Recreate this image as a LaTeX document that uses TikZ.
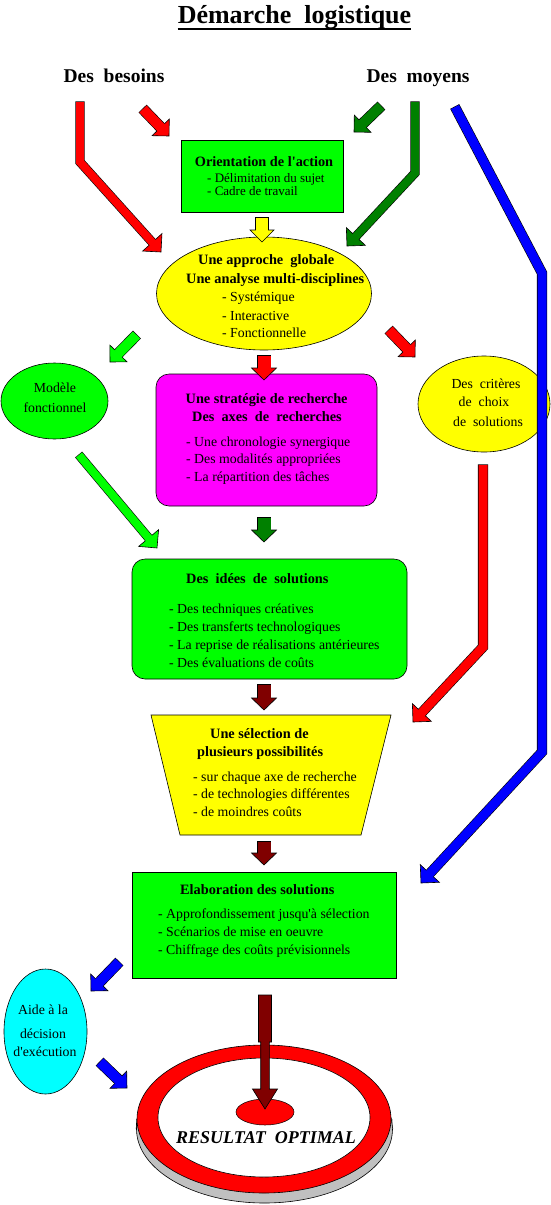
\documentclass[tikz,border=0pt]{standalone}
\usepackage{fontspec}
\setmainfont{Liberation Serif}
\usetikzlibrary{calc,shapes.geometric}
\definecolor{cLime}{RGB}{0,255,0}
\definecolor{cDGreen}{RGB}{0,128,0}
\definecolor{cYellow}{RGB}{255,255,0}
\definecolor{cMag}{RGB}{255,0,255}
\definecolor{cCyan}{RGB}{0,255,255}
\definecolor{cRed}{RGB}{255,0,0}
\definecolor{cBlue}{RGB}{0,0,255}
\definecolor{cMaroon}{RGB}{128,0,0}
\definecolor{cGray}{RGB}{192,192,192}
% block arrow: color, shaft width, half head width, head length, path up to penultimate point, penultimate, tip
\newcommand\blockarrow[7]{%
  \coordinate (bh) at ($(#7)!#4pt!(#6)$);
  \draw[line width=#2pt+1.2pt, black, line join=miter, shorten <=-0.6pt] #5 -- (bh);
  \filldraw[fill=#1, draw=black, line width=0.6pt, line join=miter] (#7) -- ($(bh)!#3pt!90:(#7)$) -- ($(bh)!#3pt!-90:(#7)$) -- cycle;
  \draw[line width=#2pt, #1, line join=miter] #5 -- ($(bh)!1pt!(#7)$);
}
\newcommand\qs{\textquotesingle}
\tikzset{
 tx/.style={font=\fontsize{13.8}{16}\selectfont, inner sep=0pt, anchor=base west},
 tb/.style={font=\fontsize{14.3}{16}\selectfont\bfseries, inner sep=0pt, anchor=base west},
 hd/.style={font=\fontsize{19.5}{22}\selectfont\bfseries, inner sep=0pt, anchor=base},
 shp/.style={draw=black, line width=0.6pt, inner sep=0pt},
}
\begin{document}
\begin{tikzpicture}[x=1pt,y=-1pt]
\useasboundingbox (0,0) rectangle (551,1205);

% title
\node[font=\fontsize{26}{30}\selectfont\bfseries, inner sep=0pt, anchor=base] (title) at (294.5,23) {Démarche\ \ logistique};
\draw[line width=1.8pt] ([yshift=-6pt]title.base west) -- ([yshift=-6pt]title.base east);
\node[hd] (besoins) at (114,82) {Des\ \ besoins};
\node[hd] (moyens) at (418,82) {Des\ \ moyens};

% shapes
\node[shp, rectangle, fill=cLime, minimum width=162pt, minimum height=72pt] (orient) at (262,176) {};
\node[shp, ellipse, fill=cYellow, minimum width=215pt, minimum height=113pt] (approche) at (264,293.5) {};
\node[shp, ellipse, fill=cLime, minimum width=107pt, minimum height=76pt] (modele) at (54.5,401) {};
\node[shp, rectangle, rounded corners=13pt, fill=cMag, minimum width=221pt, minimum height=132pt] (strat) at (266.5,440) {};
\node[shp, ellipse, fill=cYellow, minimum width=132pt, minimum height=96pt] (criteres) at (484,404) {};
\node[shp, rectangle, rounded corners=13pt, fill=cLime, minimum width=275pt, minimum height=120pt] (idees) at (269.5,619) {};
\coordinate (tz1) at (151,715); \coordinate (tz2) at (391,715);
\coordinate (tz3) at (361,835); \coordinate (tz4) at (180,835);
\filldraw[fill=cYellow, draw=black, line width=0.6pt] (tz1) -- (tz2) -- (tz3) -- (tz4) -- cycle;
\node[shp, rectangle, fill=cLime, minimum width=264pt, minimum height=106pt] (elab) at (264,925) {};
\node[shp, ellipse, fill=cCyan, minimum width=83pt, minimum height=125pt] (aide) at (45.5,1031.5) {};

% target
\node[ellipse, fill=cGray, draw=black, line width=0.6pt, inner sep=0pt, minimum width=256pt, minimum height=148pt] (shadow) at (264.5,1129) {};
\node[ellipse, inner sep=0pt, minimum width=254pt, minimum height=148pt] (ringb) at (264,1119) {};
\fill[cGray] (ringb.west) rectangle (shadow.east);
\draw[line width=0.6pt] (ringb.west) -- (shadow.west) (ringb.east) -- (shadow.east);
\node[ellipse, fill=cRed, draw=black, line width=0.6pt, inner sep=0pt, minimum width=254pt, minimum height=148pt] (ring) at (264,1119) {};
\node[ellipse, fill=white, draw=black, line width=0.6pt, inner sep=0pt, minimum width=212pt, minimum height=119pt] (hole) at (264,1117.5) {};
\node[ellipse, fill=cRed, draw=black, line width=0.5pt, inner sep=0pt, minimum width=58pt, minimum height=26pt] (bull) at (265,1112) {};
\node[font=\fontsize{18}{20}\selectfont\bfseries\itshape, inner sep=0pt, anchor=base west] (result) at (176,1143) {RESULTAT\ \ OPTIMAL};

% texts
\node[tb, anchor=base] (o1) at (264,166) {Orientation de l\qs action};
\node[tx, font=\fontsize{13}{15}\selectfont] (o2) at (207,182) {- Délimitation du sujet};
\node[tx, font=\fontsize{13}{15}\selectfont] (o3) at (207,195) {- Cadre de travail};

\node[tb] (a1) at (198,264) {Une approche\ \ globale};
\node[tb] (a2) at (186,283) {Une analyse multi-disciplines};
\node[tx] (a3) at (222,301.5) {- Systémique};
\node[tx] (a4) at (222,320) {- Interactive};
\node[tx] (a5) at (222,337.5) {- Fonctionnelle};

\node[tx, anchor=base] (m1) at (55,392.5) {Modèle};
\node[tx, anchor=base] (m2) at (55,412.5) {fonctionnel};

\node[tb] (s1) at (185.5,403.5) {Une stratégie de recherche};
\node[tb] (s2) at (192,421.5) {Des\ \ axes\ \ de\ \ recherches};
\node[tx] (s3) at (186,446.5) {- Une chronologie synergique};
\node[tx] (s4) at (186,463.5) {- Des modalités appropriées};
\node[tx] (s5) at (186,481.5) {- La répartition des tâches};

\node[tx, anchor=base] (c1) at (486,388.5) {Des\ \ critères};
\node[tx, anchor=base] (c2) at (484,406.5) {de\ \ choix};
\node[tx, anchor=base] (c3) at (488,426.5) {de\ \ solutions};

\node[tb] (i1) at (186,583.5) {Des\ \ idées\ \ de\ \ solutions};
\node[tx] (i2) at (169,613.5) {- Des techniques créatives};
\node[tx] (i3) at (169,631.5) {- Des transferts technologiques};
\node[tx] (i4) at (169,649.5) {- La reprise de réalisations antérieures};
\node[tx] (i5) at (169,667.5) {- Des évaluations de coûts};

\node[tb] (t1) at (210,738.5) {Une sélection de};
\node[tb] (t2) at (197,756.5) {plusieurs possibilités};
\node[tx] (t3) at (193,781.5) {- sur chaque axe de recherche};
\node[tx] (t4) at (193,798.5) {- de technologies différentes};
\node[tx] (t5) at (193,816.5) {- de moindres coûts};

\node[tb] (e1) at (180,894.5) {Elaboration des solutions};
\node[tx] (e2) at (158,918.5) {- Approfondissement jusqu\qs à sélection};
\node[tx] (e3) at (158,936.5) {- Scénarios de mise en oeuvre};
\node[tx] (e4) at (158,954.5) {- Chiffrage des coûts prévisionnels};

\node[tx, anchor=base] (h1) at (43,1014.5) {Aide à la};
\node[tx, anchor=base] (h2) at (43,1038.5) {décision};
\node[tx, anchor=base] (h3) at (45,1056.5) {d\qs exécution};

% arrow coordinates
\coordinate (rA0) at (80,102); \coordinate (rA1) at (80,162); \coordinate (rA2) at (161,252);
\coordinate (rB0) at (143,109); \coordinate (rB1) at (169,136);
\coordinate (gB0) at (381,106); \coordinate (gB1) at (354,132);
\coordinate (gA0) at (415,102); \coordinate (gA1) at (415,173); \coordinate (gA2) at (347,246);
\coordinate (bA0) at (455,107); \coordinate (bA1) at (542,273); \coordinate (bA2) at (542,752); \coordinate (bA3) at (421,883);
\coordinate (yA0) at (262,218); \coordinate (yA1) at (262,242);
\coordinate (lB0) at (136.5,335); \coordinate (lB1) at (110,362);
\coordinate (rC0) at (389,330); \coordinate (rC1) at (415,357);
\coordinate (rD0) at (264,356); \coordinate (rD1) at (264,380);
\coordinate (lA0) at (79,455); \coordinate (lA1) at (157,548);
\coordinate (gD0) at (264,518); \coordinate (gD1) at (264,542);
\coordinate (mA0) at (264,685); \coordinate (mA1) at (264,710);
\coordinate (rE0) at (483,465); \coordinate (rE1) at (483,647); \coordinate (rE2) at (413,722);
\coordinate (mB0) at (264,842); \coordinate (mB1) at (264,865);
\coordinate (bB0) at (119,962); \coordinate (bB1) at (91,991);
\coordinate (bC0) at (100,1062); \coordinate (bC1) at (127,1088);
\coordinate (mC0) at (265,995); \coordinate (mC1) at (265,1109);

% arrows
\blockarrow{cRed}{8}{13}{13}{(rA0) -- (rA1)}{rA1}{rA2}
\blockarrow{cRed}{10}{12}{12}{(rB0)}{rB0}{rB1}
\blockarrow{cDGreen}{10}{12}{12}{(gB0)}{gB0}{gB1}
\blockarrow{cDGreen}{8}{13}{13}{(gA0) -- (gA1)}{gA1}{gA2}
\blockarrow{cBlue}{9}{13}{13}{(bA0) -- (bA1) -- (bA2)}{bA2}{bA3}
\blockarrow{cYellow}{12}{12}{12}{(yA0)}{yA0}{yA1}
\blockarrow{cLime}{10}{12}{12}{(lB0)}{lB0}{lB1}
\blockarrow{cRed}{10}{12}{12}{(rC0)}{rC0}{rC1}
\blockarrow{cRed}{13}{12.5}{12}{(rD0)}{rD0}{rD1}
\blockarrow{cLime}{8}{13}{13}{(lA0)}{lA0}{lA1}
\blockarrow{cDGreen}{13}{12.5}{12}{(gD0)}{gD0}{gD1}
\blockarrow{cMaroon}{13}{12.5}{12}{(mA0)}{mA0}{mA1}
\blockarrow{cRed}{9}{13}{13}{(rE0) -- (rE1)}{rE1}{rE2}
\blockarrow{cMaroon}{13}{12.5}{12}{(mB0)}{mB0}{mB1}
\blockarrow{cBlue}{10}{12}{12}{(bB0)}{bB0}{bB1}
\blockarrow{cBlue}{10}{12}{12}{(bC0)}{bC0}{bC1}
% big stepped arrow into the target
\filldraw[fill=cMaroon, draw=black, line width=0.6pt, line join=miter]
  ($(mC0)+(-6.5,0)$) -- ($(mC0)+(6.5,0)$) -- ($(mC0)+(6.5,47)$) -- ($(mC0)+(4.3,47)$)
  -- ($(mC1)+(4.3,-20)$) -- ($(mC1)+(12.5,-20)$) -- (mC1) -- ($(mC1)+(-12.5,-20)$)
  -- ($(mC1)+(-4.3,-20)$) -- ($(mC0)+(-4.3,47)$) -- ($(mC0)+(-6.5,47)$) -- cycle;
\end{tikzpicture}
\end{document}
